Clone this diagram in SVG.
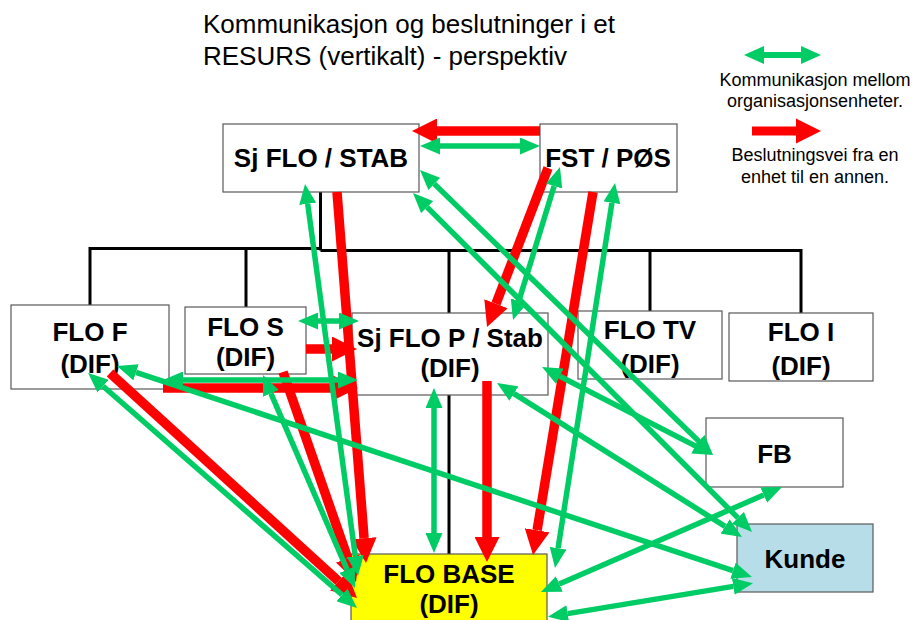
<svg xmlns="http://www.w3.org/2000/svg" width="915" height="620" viewBox="0 0 915 620">
  <style>
    .box { fill: #ffffff; stroke: #595959; stroke-width: 1.2; }
    .lbl { font-family: "Liberation Sans", Arial, sans-serif; font-weight: bold; font-size: 26px; fill: #000; text-anchor: middle; }
    .title { font-family: "Liberation Sans", Arial, sans-serif; font-size: 26px; fill: #000; }
    .legend { font-family: "Liberation Sans", Arial, sans-serif; font-size: 18px; fill: #000; text-anchor: middle; }
    .tree { stroke: #000; stroke-width: 3; fill: none; }
    .comm { stroke: #00cc66; stroke-width: 5.5; fill: none; marker-start: url(#gHead); marker-end: url(#gHead); }
    .dec { stroke: #ff0000; stroke-width: 9.5; fill: none; marker-end: url(#rHead); }
  </style>
  <defs>
    <marker id="gHead" viewBox="0 0 20 17" markerUnits="userSpaceOnUse" markerWidth="20" markerHeight="17" refX="0" refY="8.5" orient="auto-start-reverse">
      <path d="M0,0 L20,8.5 L0,17 z" fill="#00cc66"/>
    </marker>
    <marker id="rHead" viewBox="0 0 25 25" markerUnits="userSpaceOnUse" markerWidth="25" markerHeight="25" refX="0" refY="12.5" orient="auto">
      <path d="M0,0 L25,12.5 L0,25 z" fill="#ff0000"/>
    </marker>
  </defs>

  <rect width="915" height="620" fill="#ffffff"/>

  <!-- Title -->
  <text class="title" x="203" y="33">Kommunikasjon og beslutninger i et</text>
  <text class="title" x="203" y="65">RESURS (vertikalt) - perspektiv</text>

  <!-- Legend -->
  <g id="legend">
    <polygon points="744,55 764,46 764,52 801,52 801,46 821,55 801,64 801,58 764,58 764,64" fill="#00cc66"/>
    <text class="legend" x="815" y="86">Kommunikasjon mellom</text>
    <text class="legend" x="815" y="107">organisasjonsenheter.</text>
    <polygon points="752,126.5 796,126.5 796,118.5 821,131 796,143.5 796,135.5 752,135.5" fill="#ff0000"/>
    <text class="legend" x="815" y="161">Beslutningsvei fra en</text>
    <text class="legend" x="815" y="183">enhet til en annen.</text>
  </g>

  <!-- Organisation tree -->
  <g id="tree">
    <path class="tree" d="M320.5,192 V250.5 M90,307 V248.5 H320.5 M246,307 V248.5 M320.5,250.5 H801 V313 M449,250.5 V313 M650,250.5 V311 M449,395 V554"/>
  </g>

  <!-- Nodes -->
  <g id="sj-flo-stab">
    <rect class="box" x="223" y="124" width="196" height="68"/>
    <text class="lbl" x="321" y="167">Sj FLO / STAB</text>
  </g>
  <g id="fst-pos">
    <rect class="box" x="540" y="124" width="137" height="68"/>
    <text class="lbl" x="608" y="167">FST / PØS</text>
  </g>
  <g id="flo-f">
    <rect class="box" x="11" y="305" width="158" height="84"/>
    <text class="lbl" x="90" y="341">FLO F</text>
    <text class="lbl" x="90" y="373">(DIF)</text>
  </g>
  <g id="flo-s">
    <rect class="box" x="185" y="307" width="121" height="67"/>
    <text class="lbl" x="245.5" y="336">FLO S</text>
    <text class="lbl" x="245.5" y="366">(DIF)</text>
  </g>
  <g id="sj-flo-p">
    <rect class="box" x="352" y="313" width="196" height="82"/>
    <text class="lbl" x="450" y="347">Sj FLO P / Stab</text>
    <text class="lbl" x="450" y="377">(DIF)</text>
  </g>
  <g id="flo-tv">
    <rect class="box" x="578" y="311" width="144" height="68"/>
    <text class="lbl" x="650" y="339">FLO TV</text>
    <text class="lbl" x="650" y="373">(DIF)</text>
  </g>
  <g id="flo-i">
    <rect class="box" x="729" y="313" width="144" height="68"/>
    <text class="lbl" x="801" y="341">FLO I</text>
    <text class="lbl" x="801" y="375">(DIF)</text>
  </g>
  <g id="fb">
    <rect class="box" x="706" y="418" width="137" height="69"/>
    <text class="lbl" x="774.5" y="463">FB</text>
  </g>
  <g id="kunde">
    <rect class="box" x="737" y="524" width="136" height="68" style="fill:#b7dee8"/>
    <text class="lbl" x="805" y="568">Kunde</text>
  </g>
  <g id="flo-base">
    <rect class="box" x="351" y="554" width="196" height="80" style="fill:#ffff00"/>
    <text class="lbl" x="449" y="583">FLO BASE</text>
    <text class="lbl" x="449" y="613">(DIF)</text>
  </g>

  <!-- Connectors: decision paths (red) below, communication (green) above -->
  <g id="connectors">
    <line class="dec" x1="540" y1="131" x2="437" y2="131"/>
    <line class="dec" x1="548" y1="168" x2="496" y2="303.7"/>
    <line class="dec" x1="593" y1="192" x2="537.1" y2="530.3"/>
    <line class="dec" x1="337" y1="192" x2="364.05" y2="538.1"/>
    <line class="dec" x1="487" y1="381" x2="487" y2="537"/>
    <line class="dec" x1="306" y1="349" x2="332" y2="349"/>
    <line class="dec" x1="283" y1="372" x2="347.8" y2="558.4"/>
    <line class="dec" x1="163" y1="388" x2="333" y2="388"/>
    <line class="dec" x1="110" y1="373" x2="338.5" y2="581.2"/>

    <line class="comm" x1="440" y1="146" x2="520" y2="146"/>
    <line class="comm" x1="307.7" y1="203.8" x2="355.3" y2="556.2"/>
    <line class="comm" x1="434.3" y1="183.9" x2="698.7" y2="441.1"/>
    <line class="comm" x1="427.1" y1="207.1" x2="737.9" y2="517.9"/>
    <line class="comm" x1="554.1" y1="186.1" x2="518.9" y2="300.9"/>
    <line class="comm" x1="611.9" y1="202.8" x2="558.1" y2="548.2"/>
    <line class="comm" x1="434" y1="408" x2="434" y2="533"/>
    <line class="comm" x1="318" y1="321" x2="339" y2="321"/>
    <line class="comm" x1="183" y1="380" x2="338" y2="380"/>
    <line class="comm" x1="763.7" y1="495" x2="559.3" y2="584"/>
    <line class="comm" x1="733.3" y1="586.4" x2="567.7" y2="613.6"/>
    <line class="comm" x1="136" y1="372.3" x2="733" y2="570.7"/>
    <line class="comm" x1="513.9" y1="393.6" x2="725.1" y2="526.4"/>
    <line class="comm" x1="559.8" y1="376.2" x2="695.2" y2="445.9"/>
    <line class="comm" x1="270.9" y1="393.4" x2="347.1" y2="569.6"/>
    <line class="comm" x1="103.1" y1="386.2" x2="341.9" y2="594.8"/>
  </g>
</svg>
